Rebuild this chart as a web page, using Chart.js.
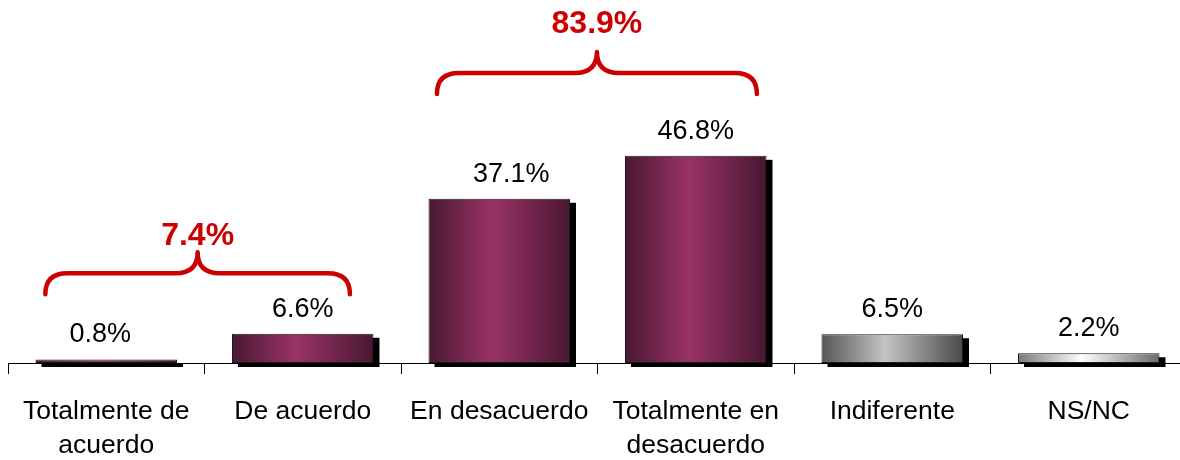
<!DOCTYPE html>
<html>
<head>
<meta charset="utf-8">
<script src="https://cdn.jsdelivr.net/npm/chart.js@4"></script>
<style>
  html, body { margin: 0; padding: 0; background: #fff; overflow: hidden; }
  #wrap { width: 1190px; height: 460px; }
</style>
</head>
<body>
<div id="wrap"><canvas id="myChart" width="1190" height="460"></canvas></div>
<script>
let categories = [
  ["Totalmente de", "acuerdo"],
  "De acuerdo",
  "En desacuerdo",
  ["Totalmente en", "desacuerdo"],
  "Indiferente",
  "NS/NC",
];
let values = [0.8, 6.6, 37.1, 46.8, 6.5, 2.2];

// small horizontal nudges of the value labels, as in the original
let labelNudge = [-6, 0, 12, 0, 0, 0];

// gradient stops per bar: edge, middle, edge
let barGradients = [
  ["#4a1833", "#993366", "#4a1833"],
  ["#4a1833", "#993366", "#4a1833"],
  ["#4a1833", "#993366", "#4a1833"],
  ["#4a1833", "#993366", "#4a1833"],
  ["#555555", "#c4c4c4", "#4a4a4a"],
  ["#7a7a7a", "#ffffff", "#6a6a6a"],
];

// red braces: category span (fractional index), height in % units, total label
let braceFrom = [-0.31, 1.683];
let braceTo = [1.24, 3.311];
let braceLevel = [20.3, 65.5];
let braceLabelLevel = [26.7, 74.5];
let braceLabels = ["7.4%", "83.9%"];

const fontFamily = "'Liberation Sans', Arial, sans-serif";
const barPct = 0.72;

function barFill(context) {
  let chart = context.chart;
  let i = context.dataIndex;
  let stops = barGradients[i];
  if (!chart.chartArea) {
    return stops[1];
  }
  let xScale = chart.scales.x;
  let cx = xScale.getPixelForValue(i);
  let w = (xScale.width / categories.length) * barPct;
  let g = chart.ctx.createLinearGradient(cx - w / 2, 0, cx + w / 2, 0);
  g.addColorStop(0, stops[0]);
  g.addColorStop(0.45, stops[1]);
  g.addColorStop(1, stops[2]);
  return g;
}

const shadowPlugin = {
  id: "shadow",
  beforeDatasetsDraw(chart) {
    let ctx = chart.ctx;
    let meta = chart.getDatasetMeta(0);
    ctx.save();
    ctx.fillStyle = "#000";
    meta.data.forEach((bar) => {
      let p = bar.getProps(["x", "y", "base", "width"], true);
      ctx.fillRect(p.x - p.width / 2 + 6, p.y + 4, p.width, p.base - p.y);
    });
    ctx.restore();
  },
};

const valueLabelPlugin = {
  id: "valueLabels",
  afterDatasetsDraw(chart) {
    let ctx = chart.ctx;
    let meta = chart.getDatasetMeta(0);
    ctx.save();
    ctx.fillStyle = "#000";
    ctx.font = "27px " + fontFamily;
    ctx.textAlign = "center";
    ctx.textBaseline = "alphabetic";
    meta.data.forEach((bar, i) => {
      ctx.fillText(values[i].toFixed(1) + "%", bar.x + labelNudge[i], bar.y - 17);
    });
    ctx.restore();
  },
};

const bracePlugin = {
  id: "braces",
  afterDraw(chart) {
    let ctx = chart.ctx;
    let xs = chart.scales.x;
    let ys = chart.scales.y;
    ctx.save();
    ctx.strokeStyle = "#cc0000";
    ctx.fillStyle = "#cc0000";
    ctx.lineWidth = 4.5;
    ctx.lineCap = "round";
    ctx.lineJoin = "round";
    for (let b = 0; b < braceLabels.length; b++) {
      let x0 = xs.getPixelForValue(braceFrom[b]);
      let x1 = xs.getPixelForValue(braceTo[b]);
      let mid = (x0 + x1) / 2;
      let yh = ys.getPixelForValue(braceLevel[b]);
      let tip = yh - 21;
      let end = yh + 21;
      let r = 22;
      ctx.beginPath();
      ctx.moveTo(x0, end);
      ctx.quadraticCurveTo(x0, yh, x0 + r, yh);
      ctx.lineTo(mid - r, yh);
      ctx.quadraticCurveTo(mid, yh, mid, tip);
      ctx.quadraticCurveTo(mid, yh, mid + r, yh);
      ctx.lineTo(x1 - r, yh);
      ctx.quadraticCurveTo(x1, yh, x1, end);
      ctx.stroke();

      ctx.font = "bold 32px " + fontFamily;
      ctx.textAlign = "center";
      ctx.textBaseline = "alphabetic";
      ctx.fillText(braceLabels[b], mid, ys.getPixelForValue(braceLabelLevel[b]));
    }
    ctx.restore();
  },
};

function init() {
  const ctx = document.getElementById("myChart");
  new Chart(ctx, {
    type: "bar",
    data: {
      labels: categories,
      datasets: [
        {
          data: values,
          backgroundColor: barFill,
          borderColor: "#1a1a1a",
          borderWidth: 1,
          borderSkipped: false,
          barPercentage: barPct,
          categoryPercentage: 1,
        },
      ],
    },
    options: {
      responsive: false,
      animation: false,
      devicePixelRatio: 1,
      layout: {
        padding: { left: 8, right: 3, top: 0, bottom: 0 },
      },
      plugins: {
        legend: { display: false },
        tooltip: { enabled: false },
      },
      scales: {
        x: {
          grid: {
            display: true,
            drawOnChartArea: false,
            drawTicks: true,
            tickLength: 11,
            color: "#000",
            lineWidth: 1,
            offset: true,
          },
          border: { display: true, color: "#000", width: 1 },
          ticks: {
            color: "#000",
            font: { family: fontFamily, size: 26.5, lineHeight: 1.27 },
            padding: 21,
            maxRotation: 0,
            autoSkip: false,
          },
          afterFit: (scale) => {
            scale.height = 97;
          },
        },
        y: {
          display: false,
          min: 0,
          max: 82,
        },
      },
    },
    plugins: [shadowPlugin, valueLabelPlugin, bracePlugin],
  });
}

init();
</script>
</body>
</html>
